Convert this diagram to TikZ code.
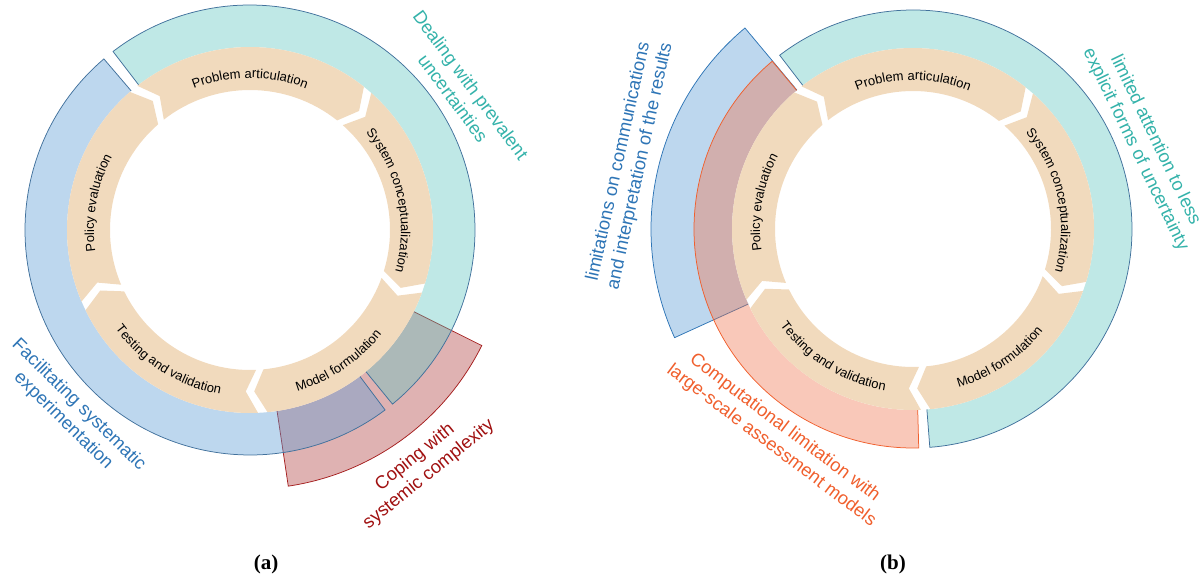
\documentclass[tikz,border=0pt]{standalone}
\usepackage{fontspec}
\setmainfont{Liberation Sans}
\newfontfamily\serifcap{Liberation Serif}
\usetikzlibrary{decorations.text}
\definecolor{ringc}{RGB}{241,218,189}
\definecolor{bandblue}{RGB}{91,155,213}
\definecolor{bandteal}{RGB}{95,197,192}
\definecolor{bandred}{RGB}{150,0,0}
\definecolor{bandsalmon}{RGB}{240,110,70}
\definecolor{edgeblue}{RGB}{65,113,156}
\definecolor{edgeblueb}{RGB}{46,117,182}
\definecolor{edgered}{RGB}{165,30,30}
\definecolor{edgeorange}{RGB}{240,95,45}
\definecolor{txtteal}{RGB}{52,178,170}
\definecolor{txtblue}{RGB}{46,117,182}
\definecolor{txtred}{RGB}{160,16,16}
\definecolor{txtorange}{RGB}{240,95,45}

\def\gaphw{1.5}
\def\tipdeg{4}
\def\ringin{140}
\def\ringout{183}
\def\roff{0}
\newcommand{\segfont}{\fontsize{13}{15}\selectfont}

% one block of the cycle: #1 start angle (larger), #2 end angle
\newcommand{\cycseg}[2]{%
  \fill[ringc] (#1-\gaphw:\ringout) arc[start angle=#1-\gaphw, end angle=#2+\gaphw, radius=\ringout]
    -- (#2+\gaphw-\tipdeg:{(\ringin+\ringout)/2})
    -- (#2+\gaphw:\ringin) arc[start angle=#2+\gaphw, end angle=#1-\gaphw, radius=\ringin]
    -- (#1-\gaphw-\tipdeg:{(\ringin+\ringout)/2}) -- cycle;}

% band: {fill opts}{edge opts}{start}{end}{rin}{rout}
\newcommand{\bandseg}[6]{%
  \fill[#1] (#3:#6) arc[start angle=#3, end angle=#4, radius=#6] -- (#4:#5) arc[start angle=#4, end angle=#3, radius=#5] -- cycle;
  \draw[#2] (#3:#5) -- (#3:#6) arc[start angle=#3, end angle=#4, radius=#6] -- (#4:#5);}

% curved text: radius, from, to, text
\newcommand{\arctext}[4]{%
  \path[decorate,decoration={text along path,text align=center,text={|\segfont|#4}}]
    (#2:{#1-\roff}) arc[start angle=#2,end angle=#3,radius={#1-\roff}];}

\newcommand{\cyclering}{%
  \cycseg{129.5}{50}
  \cycseg{50}{-18.5}
  \cycseg{-18.5}{-86}
  \cycseg{-86}{-155.5}
  \cycseg{204.5}{129.5}
  \arctext{152}{150}{30}{Problem articulation}
  \arctext{151}{72}{-48}{System conceptualization}
  \arctext{168}{-116}{4}{Model formulation}
  \arctext{167}{178}{298}{Testing and validation}
  \arctext{156}{230}{110}{Policy evaluation}}

\begin{document}
\begin{tikzpicture}[x=1pt,y=1pt,
  lbl/.style={font=\fontsize{18.3}{22}\selectfont, align=center, inner sep=0pt},
  capt/.style={font=\serifcap\bfseries\fontsize{21}{24}\selectfont, inner sep=0pt},
  edgeln/.style={line width=0.75pt}]
\useasboundingbox (0,0) rectangle (1203,579);

% ---------------- (a)
\begin{scope}[shift={(250,349)}]
  \bandseg{fill=bandred,fill opacity=0.3}{edgeln,draw=edgered}{-81.5}{-26.5}{183}{259}
  \bandseg{fill=bandblue,fill opacity=0.4}{edgeln,draw=edgeblue}{130.5}{306.9}{183}{225}
  \bandseg{fill=bandteal,fill opacity=0.4}{edgeln,draw=edgeblue}{-50.7}{127.5}{183}{225}
  \cyclering
\end{scope}
\node[lbl,text=txtteal,rotate=-53.5] (deal) at (462,487.5) {Dealing with prevalent\\uncertainties};
\node[lbl,text=txtblue,rotate=-44.4] (facil) at (71,166) {Facilitating systematic\\experimentation};
\node[lbl,text=txtred,rotate=39] (coping) at (422,113) {Coping with\\systemic complexity};
\node[capt] (capa) at (266,14.5) {(a)};

% ---------------- (b)
\def\ringin{138}
\def\ringout{181}
\def\roff{3}
\begin{scope}[shift={(913,350)}]
  \bandseg{fill=bandblue,fill opacity=0.4}{edgeln,draw=edgeblueb}{129.9}{204.5}{181}{262}
  \bandseg{fill=bandteal,fill opacity=0.4}{edgeln,draw=edgeblue}{-85.6}{127.5}{181}{219}
  \bandseg{fill=bandsalmon,fill opacity=0.38}{edgeln,draw=edgeorange}{130}{271.5}{181}{219}
  \cyclering
\end{scope}
\node[lbl,text=txtblue,rotate=77.7] (limcomm) at (629.5,415) {limitations on communications\\and interpretation of the results};
\node[lbl,text=txtteal,rotate=-64.3] (limatt) at (1145.4,434) {limited attention to less\\explicit forms of uncertainty};
\node[lbl,text=txtorange,rotate=-37] (comp) at (778,142) {Computational limitation with\\large-scale assessment models};
\node[capt] (capb) at (893,14.5) {(b)};
\end{tikzpicture}
\end{document}
